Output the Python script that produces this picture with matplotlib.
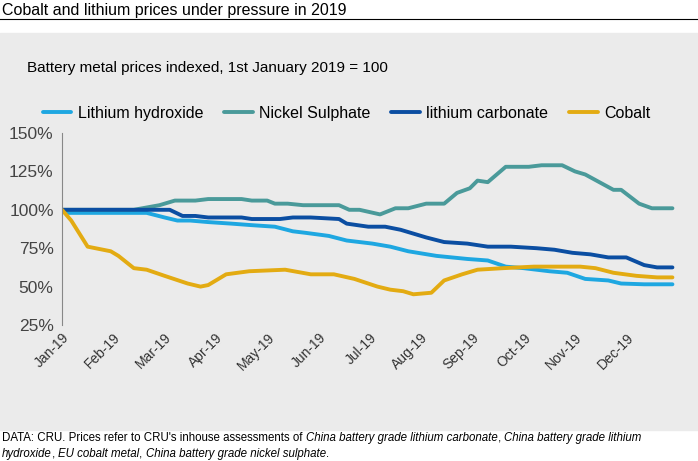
import matplotlib
matplotlib.use("Agg")
import matplotlib.pyplot as plt
from matplotlib.patches import Rectangle
from matplotlib.ticker import FuncFormatter

months = ["Jan-19","Feb-19","Mar-19","Apr-19","May-19","Jun-19","Jul-19","Aug-19","Sep-19","Oct-19","Nov-19","Dec-19"]

lh_x = [0,0.1,1.65,2.0,2.25,2.5,2.85,3.3,3.7,4.15,4.5,4.75,5.2,5.55,6.05,6.4,6.75,7.3,7.9,8.3,8.65,9.0,9.5,9.85,10.2,10.65,10.9,11.35,11.9]
lh_y = [100,98,98,95,93,93,92,91,90,89,86,85,83,80,78,76,73,70,68,67,63,62,60,59,55,54,52,51.5,51.5]

ni_x = [0,1.3,1.4,1.9,2.2,2.6,2.85,3.5,3.7,4.0,4.15,4.4,4.7,5.4,5.6,5.8,6.2,6.5,6.75,7.1,7.45,7.7,7.95,8.1,8.3,8.65,9.1,9.35,9.75,10.0,10.2,10.75,10.9,11.25,11.5,11.9]
ni_y = [100,100,100,103,106,106,107,107,106,106,104,104,103,103,100,100,97,101,101,104,104,111,114,119,118,128,128,129,129,125,123,113,113,104,101,101]

lc_x = [0,2.1,2.35,2.6,2.85,3.5,3.7,4.25,4.5,4.85,5.4,5.55,5.97,6.3,6.6,7.1,7.45,7.9,8.3,8.75,9.25,9.6,9.95,10.3,10.65,11.0,11.35,11.6,11.9]
lc_y = [100,100,96,96,95,95,94,94,95,95,94,91,89,89,87,82,79,78,76,76,75,74,72,71,69,69,64,62.5,62.5]

co_x = [0,0.18,0.5,0.95,1.1,1.4,1.65,2.0,2.45,2.7,2.85,3.2,3.65,4.35,4.85,5.3,5.7,6.15,6.4,6.65,6.85,7.2,7.45,7.8,8.1,8.6,9.2,10.1,10.4,10.75,11.2,11.6,11.9]
co_y = [100,93,76,73,70,62,61,57,52,50,51,58,60,61,58,58,55,50,48,47,45,46,54,58,61,62,63,63,62,59,57,56,56]

plt.rcParams['font.family'] = ['Liberation Sans', 'DejaVu Sans']
fig = plt.figure(figsize=(6.98, 4.61), dpi=100)
W, H = 698, 461
fig.patches.append(Rectangle((0, 1-430/H), 1, (430-33)/H, transform=fig.transFigure, color='#ebebeb', zorder=-10))
fig.add_artist(plt.Line2D([0, 1], [1-19/H, 1-19/H], color='black', lw=0.8))
fig.text(2/W, 1-10/H, "Cobalt and lithium prices under pressure in 2019", fontsize=11.5, va='center')
fig.text(27/W, 1-68/H, "Battery metal prices indexed, 1st January 2019 = 100", fontsize=11, va='center')

ax = fig.add_axes([62/W, 1-325/H, (675-62)/W, (325-133)/H])
ax.set_facecolor('none')
ax.set_zorder(5)
series = [("Lithium hydroxide", lh_x, lh_y, '#1ea7e1'),
          ("Nickel Sulphate", ni_x, ni_y, '#4a9a9a'),
          ("lithium carbonate", lc_x, lc_y, '#0b4ea2'),
          ("Cobalt", co_x, co_y, '#e3ab12')]
for name, x, y, c in series:
    ax.plot(x, y, color=c, lw=2.8, label=name, solid_capstyle='round')
ax.set_ylim(25, 150)
ax.set_xlim(0, 11.95)
ax.set_yticks([25, 50, 75, 100, 125, 150])
ax.yaxis.set_major_formatter(FuncFormatter(lambda v, p: f"{int(v)}%"))
ax.set_xticks(range(12))
ax.set_xticklabels(months, rotation=45, ha='right', rotation_mode='anchor')
for s in ['top', 'right', 'bottom']:
    ax.spines[s].set_visible(False)
ax.spines['left'].set_color('#888888')
ax.tick_params(axis='y', labelsize=12.5, colors='#444444', length=0, pad=6)
ax.tick_params(axis='x', labelsize=10, colors='#333333', length=0, pad=4)
ax.legend(loc='lower left', bbox_to_anchor=(-0.055, 0.99), ncol=4, frameon=False,
          fontsize=11.5, handlelength=1.8, columnspacing=1.3, handletextpad=0.4)

parts1 = [("DATA: CRU. Prices refer to CRU's inhouse assessments of ", 'normal'),
          ("China battery grade lithium carbonate", 'italic'), (", ", 'normal'),
          ("China battery grade lithium", 'italic')]
parts2 = [("hydroxide", 'italic'), (", ", 'normal'), ("EU cobalt metal", 'italic'), (", ", 'normal'),
          ("China battery grade nickel sulphate", 'italic'), (".", 'normal')]
fig.canvas.draw()
r = fig.canvas.get_renderer()
for parts, yy in [(parts1, 438), (parts2, 454)]:
    x = 2/W
    for t, st in parts:
        tx = fig.text(x, 1-yy/H, t, fontsize=8.3, style=st, va='center')
        bb = tx.get_window_extent(renderer=r)
        x += bb.width/fig.bbox.width
fig.savefig("out.png", dpi=100)
